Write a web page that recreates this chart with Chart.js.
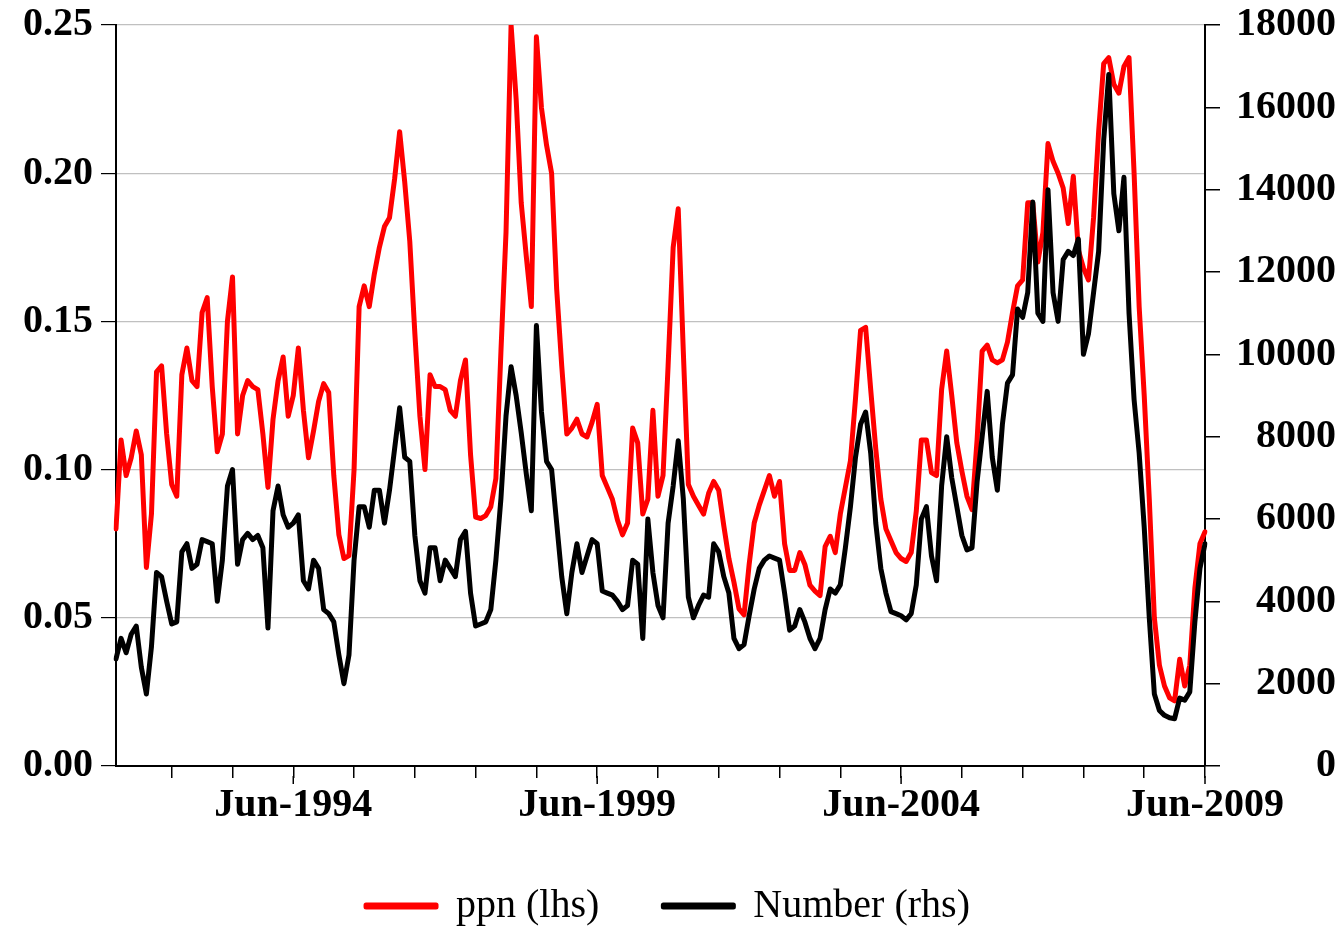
<!DOCTYPE html>
<html>
<head>
<meta charset="utf-8">
<script src="https://cdn.jsdelivr.net/npm/chart.js@4.4.0/dist/chart.umd.min.js"></script>
<style>
  html, body { margin: 0; padding: 0; background: #fff; }
  canvas { display: block; }
</style>
</head>
<body>
<canvas id="ppnChart" width="1341" height="932"></canvas>
<script>
// monthly observations, Jul-1991 to Jun-2009
const monthNames = ['Jan','Feb','Mar','Apr','May','Jun','Jul','Aug','Sep','Oct','Nov','Dec'];
const months = [];
for (let y = 1991, m = 6; months.length < 216;) {
    months.push(monthNames[m] + '-' + y);
    m++;
    if (m === 12) { m = 0; y++; }
}
const xTickLabels = ['Jun-1994', 'Jun-1999', 'Jun-2004', 'Jun-2009'];

// one row per year, Jul..Jun
const ppn = [
    0.080, 0.110, 0.098, 0.104, 0.113, 0.105, 0.067, 0.085, 0.133, 0.135, 0.112, 0.095,
    0.091, 0.132, 0.141, 0.130, 0.128, 0.153, 0.158, 0.128, 0.106, 0.112, 0.150, 0.165,
    0.112, 0.125, 0.130, 0.128, 0.127, 0.112, 0.094, 0.117, 0.130, 0.138, 0.118, 0.125,
    0.141, 0.120, 0.104, 0.113, 0.123, 0.129, 0.126, 0.098, 0.078, 0.070, 0.071, 0.100,
    0.155, 0.162, 0.155, 0.166, 0.175, 0.182, 0.185, 0.198, 0.214, 0.197, 0.177, 0.146,
    0.118, 0.100, 0.132, 0.128, 0.128, 0.127, 0.120, 0.118, 0.130, 0.137, 0.105, 0.084,
    0.0835, 0.0845, 0.0875, 0.097, 0.140, 0.180, 0.250, 0.225, 0.190, 0.172, 0.155, 0.246,
    0.222, 0.2095, 0.200, 0.161, 0.135, 0.112, 0.114, 0.117, 0.112, 0.111, 0.116, 0.122,
    0.098, 0.094, 0.090, 0.083, 0.078, 0.082, 0.114, 0.109, 0.085, 0.090, 0.120, 0.091,
    0.098, 0.135, 0.175, 0.188, 0.140, 0.095, 0.091, 0.088, 0.085, 0.092, 0.096, 0.093,
    0.081, 0.070, 0.062, 0.053, 0.051, 0.068, 0.082, 0.088, 0.093, 0.098, 0.091, 0.096,
    0.075, 0.066, 0.066, 0.072, 0.068, 0.061, 0.059, 0.0575, 0.074, 0.0775, 0.072, 0.085,
    0.094, 0.103, 0.124, 0.147, 0.148, 0.127, 0.107, 0.090, 0.080, 0.076, 0.072, 0.070,
    0.069, 0.072, 0.086, 0.110, 0.110, 0.099, 0.098, 0.127, 0.140, 0.125, 0.109, 0.0995,
    0.091, 0.0865, 0.110, 0.140, 0.142, 0.137, 0.136, 0.137, 0.143, 0.153, 0.162, 0.164,
    0.190, 0.190, 0.170, 0.180, 0.210, 0.204, 0.200, 0.195, 0.183, 0.199, 0.174, 0.168,
    0.164, 0.185, 0.214, 0.237, 0.239, 0.230, 0.227, 0.236, 0.239, 0.200, 0.155, 0.125,
    0.090, 0.050, 0.034, 0.027, 0.023, 0.022, 0.036, 0.027, 0.034, 0.060, 0.075, 0.079
];
const number = [
    2600, 3100, 2750, 3200, 3400, 2400, 1750, 2900, 4700, 4600, 4000, 3450,
    3500, 5200, 5400, 4800, 4900, 5500, 5450, 5400, 4000, 5000, 6800, 7200,
    4900, 5500, 5650, 5500, 5600, 5300, 3350, 6200, 6800, 6100, 5800, 5900,
    6100, 4500, 4300, 5000, 4800, 3800, 3700, 3500, 2700, 2000, 2700, 5000,
    6300, 6300, 5800, 6700, 6700, 5900, 6700, 7700, 8700, 7500, 7400, 5600,
    4500, 4200, 5300, 5300, 4500, 5000, 4800, 4600, 5500, 5700, 4200, 3400,
    3450, 3500, 3800, 5000, 6500, 8500, 9700, 9000, 8100, 7100, 6200, 10700,
    8600, 7400, 7200, 5900, 4600, 3700, 4700, 5400, 4700, 5100, 5500, 5400,
    4250, 4200, 4150, 4000, 3800, 3900, 5000, 4900, 3100, 6000, 4700, 3900,
    3600, 5900, 6800, 7900, 6500, 4100, 3600, 3900, 4150, 4100, 5400, 5200,
    4600, 4200, 3100, 2850, 2950, 3650, 4300, 4800, 5000, 5100, 5050, 5000,
    4200, 3300, 3400, 3800, 3500, 3100, 2850, 3100, 3800, 4300, 4200, 4400,
    5300, 6300, 7500, 8300, 8600, 7600, 5900, 4800, 4200, 3750, 3700, 3650,
    3550, 3700, 4400, 6000, 6300, 5100, 4500, 6800, 8000, 7000, 6300, 5600,
    5250, 5300, 6900, 8000, 9100, 7500, 6700, 8300, 9300, 9500, 11100, 10900,
    11500, 13700, 11000, 10800, 14000, 11500, 10800, 12300, 12500, 12400, 12800, 10000,
    10500, 11500, 12500, 15200, 16800, 13900, 13000, 14300, 11000, 8900, 7600, 5800,
    3600, 1750, 1350, 1230, 1170, 1150, 1650, 1600, 1800, 3500, 4800, 5400
];

const FONT = "'Liberation Serif', 'Times New Roman', serif";
Chart.defaults.font.family = FONT;
Chart.defaults.color = '#000';

// longer tick marks under the labelled Junes
const longTicks = {
    id: 'longTicks',
    afterDraw(chart) {
        const x = chart.scales.x;
        const ctx = chart.ctx;
        ctx.save();
        ctx.strokeStyle = '#000';
        ctx.lineWidth = 1.5;
        xTickLabels.forEach(lbl => {
            const px = x.getPixelForValue(months.indexOf(lbl));
            ctx.beginPath();
            ctx.moveTo(px, x.top + 10);
            ctx.lineTo(px, x.top + 18);
            ctx.stroke();
        });
        ctx.restore();
    }
};

new Chart(document.getElementById('ppnChart'), {
    type: 'line',
    data: {
        labels: months,
        datasets: [{
            label: 'ppn (lhs)',
            data: ppn,
            yAxisID: 'y',
            borderColor: '#ff0000',
            backgroundColor: '#ff0000',
            borderWidth: 5,
            borderJoinStyle: 'round',
            borderCapStyle: 'round',
            pointRadius: 0,
            tension: 0,
            order: 1
        }, {
            label: 'Number (rhs)',
            data: number,
            yAxisID: 'y1',
            borderColor: '#000000',
            backgroundColor: '#000000',
            borderWidth: 5,
            borderJoinStyle: 'round',
            borderCapStyle: 'round',
            pointRadius: 0,
            tension: 0,
            order: 0
        }]
    },
    options: {
        responsive: false,
        animation: false,
        layout: { padding: { left: 0, right: 5, top: 25, bottom: -4 } },
        scales: {
            x: {
                ticks: {
                    autoSkip: false,
                    maxRotation: 0,
                    padding: 4,
                    font: { size: 40, weight: 'bold' },
                    callback: function (v, i) {
                        const l = months[i];
                        return xTickLabels.includes(l) ? l : '';
                    }
                },
                grid: {
                    drawOnChartArea: false,
                    tickLength: 12,
                    lineWidth: 1.5,
                    color: ctx => (months[ctx.index] || '').startsWith('Jun') ? '#000' : 'rgba(0,0,0,0)'
                },
                border: { color: '#000', width: 2 },
                afterFit: s => { s.height = 56; }
            },
            y: {
                position: 'left',
                min: 0,
                max: 0.25,
                ticks: {
                    stepSize: 0.05,
                    padding: 8,
                    font: { size: 40, weight: 'bold', lineHeight: 0.8 },
                    callback: v => v.toFixed(2)
                },
                grid: { color: '#c0c0c0', lineWidth: 1.2, tickColor: '#000', tickLength: 15 },
                border: { color: '#000', width: 2 },
                afterFit: s => { s.width = 116; }
            },
            y1: {
                position: 'right',
                min: 0,
                max: 18000,
                ticks: {
                    stepSize: 2000,
                    padding: 0,
                    crossAlign: 'far',
                    font: { size: 40, weight: 'bold', lineHeight: 0.8 },
                    callback: v => String(v)
                },
                grid: { drawOnChartArea: false, tickColor: '#000', tickLength: 15, lineWidth: 1.5 },
                border: { color: '#000', width: 2 },
                afterFit: s => { s.width = 131; }
            }
        },
        plugins: {
            legend: {
                position: 'bottom',
                labels: {
                    boxWidth: 70,
                    boxHeight: 2,
                    padding: 64,
                    color: '#000',
                    font: { size: 40 },
                    sort: (a, b) => a.datasetIndex - b.datasetIndex
                }
            },
            tooltip: { enabled: false }
        }
    },
    plugins: [longTicks]
});
</script>
</body>
</html>
